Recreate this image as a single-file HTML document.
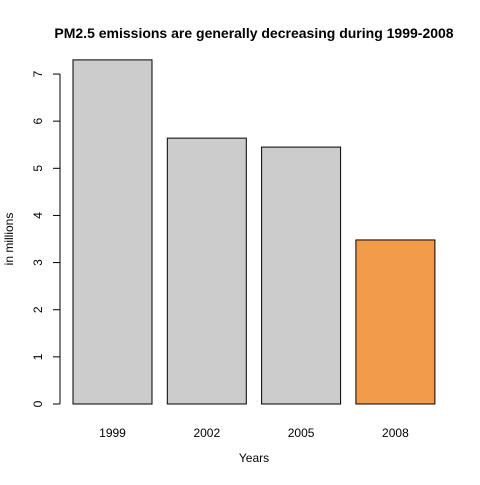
<!DOCTYPE html>
<html><head><meta charset="utf-8"><style>
body{margin:0;background:#fff}
svg text{font-family:"Liberation Sans",Arial,sans-serif}
</style></head><body>
<svg id="c" width="480" height="480" xmlns="http://www.w3.org/2000/svg">
<text x="254" y="38" text-anchor="middle" font-weight="bold" font-size="14">PM2.5 emissions are generally decreasing during 1999-2008</text>
<text x="254" y="462" text-anchor="middle" font-size="12">Years</text>
<text transform="translate(13,239) rotate(-90)" text-anchor="middle" font-size="12">in millions</text>
<g id="bars"></g><g id="yaxis"></g><g id="xlabels"></g>
</svg>
<script>
const categories=["1999","2002","2005","2008"];
const values=[7.30,5.64,5.45,3.48];
const colors=["#cccccc","#cccccc","#cccccc","#f09c4b"];
const yTicks=[0,1,2,3,4,5,6,7];
const NS="http://www.w3.org/2000/svg";
function y(v){return 404-v*47.14;}
function xLeft(i){return 73+i*94.3;}
const bw=79;
const bars=document.getElementById('bars');
categories.forEach((c,i)=>{
 const r=document.createElementNS(NS,'rect');
 r.setAttribute('x',xLeft(i));r.setAttribute('y',y(values[i]));
 r.setAttribute('width',bw);r.setAttribute('height',y(0)-y(values[i]));
 r.setAttribute('fill',colors[i]);r.setAttribute('stroke','#000');
 
 
 bars.appendChild(r);
 const t=document.createElementNS(NS,'text');
 t.setAttribute('x',xLeft(i)+bw/2);t.setAttribute('y',437);
 t.setAttribute('text-anchor','middle');t.setAttribute('font-size','12');
 t.textContent=c;
 
 
 document.getElementById('xlabels').appendChild(t);
});
const ya=document.getElementById('yaxis');
const l=document.createElementNS(NS,'line');
l.setAttribute('x1',60);l.setAttribute('x2',60);l.setAttribute('y1',y(yTicks[0]));l.setAttribute('y2',y(yTicks[yTicks.length-1]));
l.setAttribute('stroke','#000');


ya.appendChild(l);
yTicks.forEach(v=>{
 const tk=document.createElementNS(NS,'line');
 tk.setAttribute('x1',53);tk.setAttribute('x2',60);tk.setAttribute('y1',y(v));tk.setAttribute('y2',y(v));
 tk.setAttribute('stroke','#000');
 
 
 ya.appendChild(tk);
 const t=document.createElementNS(NS,'text');
 t.setAttribute('transform','translate(42,'+y(v)+') rotate(-90)');
 t.setAttribute('text-anchor','middle');t.setAttribute('font-size','12');
 t.textContent=v;
 
 
 ya.appendChild(t);
});
</script>
</body></html>
